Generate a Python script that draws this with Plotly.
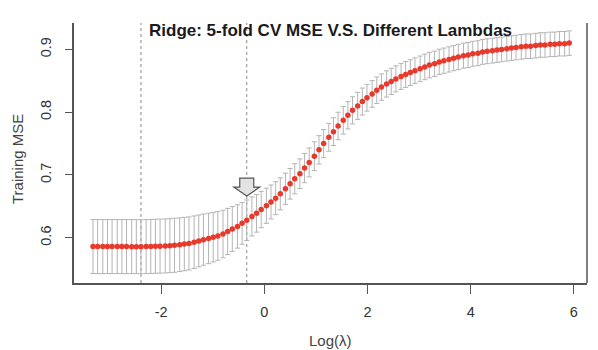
import plotly.graph_objects as go

# ---- data ----
log_lambda = [
    -3.32, -3.23, -3.13, -3.04, -2.95, -2.85, -2.76, -2.67, -2.57, -2.48,
    -2.39, -2.29, -2.20, -2.11, -2.02, -1.92, -1.83, -1.74, -1.64, -1.55,
    -1.46, -1.36, -1.27, -1.18, -1.08, -0.99, -0.90, -0.80, -0.71, -0.62,
    -0.52, -0.43, -0.34, -0.24, -0.15, -0.06, 0.04, 0.13, 0.22, 0.31,
    0.41, 0.50, 0.59, 0.69, 0.78, 0.87, 0.97, 1.06, 1.15, 1.25,
    1.34, 1.43, 1.53, 1.62, 1.71, 1.81, 1.90, 1.99, 2.09, 2.18,
    2.27, 2.37, 2.46, 2.55, 2.65, 2.74, 2.83, 2.92, 3.02, 3.11,
    3.20, 3.30, 3.39, 3.48, 3.58, 3.67, 3.76, 3.86, 3.95, 4.04,
    4.14, 4.23, 4.32, 4.42, 4.51, 4.60, 4.70, 4.79, 4.88, 4.98,
    5.07, 5.16, 5.26, 5.35, 5.44, 5.54, 5.63, 5.72, 5.82, 5.91,
]

cv_mse = [
    0.5860, 0.5860, 0.5860, 0.5860, 0.5860, 0.5860, 0.5860, 0.5860, 0.5859, 0.5859,
    0.5858, 0.5860, 0.5862, 0.5865, 0.5867, 0.5870, 0.5875, 0.5880, 0.5890, 0.5900,
    0.5910, 0.5930, 0.5950, 0.5970, 0.5990, 0.6010, 0.6030, 0.6060, 0.6100, 0.6140,
    0.6180, 0.6230, 0.6280, 0.6340, 0.6390, 0.6450, 0.6510, 0.6570, 0.6630, 0.6700,
    0.6780, 0.6860, 0.6940, 0.7020, 0.7110, 0.7200, 0.7300, 0.7400, 0.7500, 0.7600,
    0.7690, 0.7780, 0.7870, 0.7950, 0.8030, 0.8100, 0.8170, 0.8230, 0.8290, 0.8350,
    0.8400, 0.8450, 0.8490, 0.8530, 0.8570, 0.8600, 0.8630, 0.8660, 0.8690, 0.8720,
    0.8750, 0.8770, 0.8800, 0.8820, 0.8840, 0.8860, 0.8880, 0.8900, 0.8910, 0.8930,
    0.8940, 0.8960, 0.8970, 0.8980, 0.8990, 0.9000, 0.9010, 0.9020, 0.9030, 0.9040,
    0.9050, 0.9050, 0.9060, 0.9070, 0.9070, 0.9080, 0.9080, 0.9090, 0.9090, 0.9100,
]

cv_se = [
    0.0430, 0.0430, 0.0430, 0.0430, 0.0430, 0.0430, 0.0430, 0.0430, 0.0430, 0.0430,
    0.0430, 0.0430, 0.0430, 0.0430, 0.0430, 0.0430, 0.0430, 0.0430, 0.0428, 0.0425,
    0.0422, 0.0418, 0.0413, 0.0408, 0.0402, 0.0395, 0.0387, 0.0378, 0.0368, 0.0357,
    0.0345, 0.0333, 0.0322, 0.0311, 0.0300, 0.0290, 0.0280, 0.0270, 0.0262, 0.0255,
    0.0249, 0.0244, 0.0240, 0.0236, 0.0233, 0.0230, 0.0228, 0.0226, 0.0224, 0.0222,
    0.0221, 0.0219, 0.0218, 0.0217, 0.0216, 0.0215, 0.0214, 0.0213, 0.0212, 0.0211,
    0.0210, 0.0209, 0.0208, 0.0207, 0.0207, 0.0206, 0.0205, 0.0205, 0.0204, 0.0203,
    0.0203, 0.0202, 0.0202, 0.0201, 0.0201, 0.0200, 0.0200, 0.0199, 0.0199, 0.0199,
    0.0198, 0.0198, 0.0198, 0.0197, 0.0197, 0.0197, 0.0196, 0.0196, 0.0196, 0.0196,
    0.0195, 0.0195, 0.0195, 0.0195, 0.0195, 0.0195, 0.0195, 0.0195, 0.0195, 0.0195,
]

lambda_min_log = -2.39   # left dotted line
lambda_1se_log = -0.34   # right dotted line (arrow)
arrow_tip_value = 0.6664

x_ticks = [-2, 0, 2, 4, 6]
y_ticks = [0.6, 0.7, 0.8, 0.9]

title_text = "Ridge: 5-fold CV MSE V.S. Different Lambdas"
x_title = "Log(λ)"
y_title = "Training MSE"

FONT = "Liberation Sans, Arial, Helvetica, sans-serif"
AXIS_COL = "#555555"

fig = go.Figure()

fig.add_trace(go.Scatter(
    x=log_lambda, y=cv_mse, mode="markers",
    marker=dict(color="#e8392d", size=5.5, line=dict(width=0)),
    error_y=dict(type="data", array=cv_se, visible=True,
                 color="#b4b4b4", thickness=1, width=2.6),
    showlegend=False, hoverinfo="x+y",
))

# dotted vertical reference lines
for xv in [lambda_min_log, lambda_1se_log]:
    fig.add_shape(type="line", xref="x", yref="paper", x0=xv, x1=xv, y0=0, y1=1,
                  line=dict(color="#8a8a8a", width=1, dash="dot"), layer="below")

# block arrow pointing down at lambda.1se
fig.add_shape(type="path", xref="x", yref="y",
              xsizemode="pixel", ysizemode="pixel",
              xanchor=lambda_1se_log, yanchor=arrow_tip_value,
              path="M 0,0 L -13,9 L -7,9 L -7,18 L 7,18 L 7,9 L 13,9 Z",
              fillcolor="#e3e3e3", line=dict(color="#555555", width=1.2))

# right border line (box without top)
fig.add_shape(type="line", xref="paper", yref="paper", x0=1, x1=1, y0=0, y1=1,
              line=dict(color=AXIS_COL, width=1.5))

fig.update_layout(
    width=598, height=350,
    margin=dict(l=74, r=11, t=23, b=67),
    paper_bgcolor="white", plot_bgcolor="white",
    font=dict(family=FONT, color="#333333"),
    xaxis=dict(range=[-3.688, 6.254], tickvals=x_ticks, ticktext=[str(v) for v in x_ticks],
               showgrid=False, zeroline=False, showline=True, linecolor=AXIS_COL, linewidth=1.5,
               ticks="outside", ticklen=9, tickwidth=1.3, tickcolor=AXIS_COL,
               tickfont=dict(size=14.5, color="#333333"), ticklabelstandoff=6),
    yaxis=dict(range=[0.528, 0.942], tickvals=y_ticks, ticktext=[f"{v:.1f}" for v in y_ticks],
               showgrid=False, zeroline=False, showline=True, linecolor=AXIS_COL, linewidth=1.5,
               ticks="outside", ticklen=7, tickwidth=1.3, tickcolor=AXIS_COL, tickangle=-90,
               tickfont=dict(size=14.5, color="#333333"), ticklabelstandoff=8),
    annotations=[
        dict(text=f"<b>{title_text}</b>", xref="paper", yref="paper", x=0.5, y=1,
             yshift=-7, xanchor="center", yanchor="middle", showarrow=False,
             font=dict(size=17, color="#1a1a1a", family=FONT)),
        dict(text=x_title, xref="paper", yref="paper", x=0.5, y=0, yshift=-57,
             xanchor="center", yanchor="middle", showarrow=False,
             font=dict(size=15, color="#444444", family=FONT)),
        dict(text=y_title, xref="paper", yref="paper", x=0, y=0.5, xshift=-57, yshift=-6,
             xanchor="center", yanchor="middle", textangle=-90, showarrow=False,
             font=dict(size=15, color="#444444", family=FONT)),
    ],
)

fig.write_html("out.html")
